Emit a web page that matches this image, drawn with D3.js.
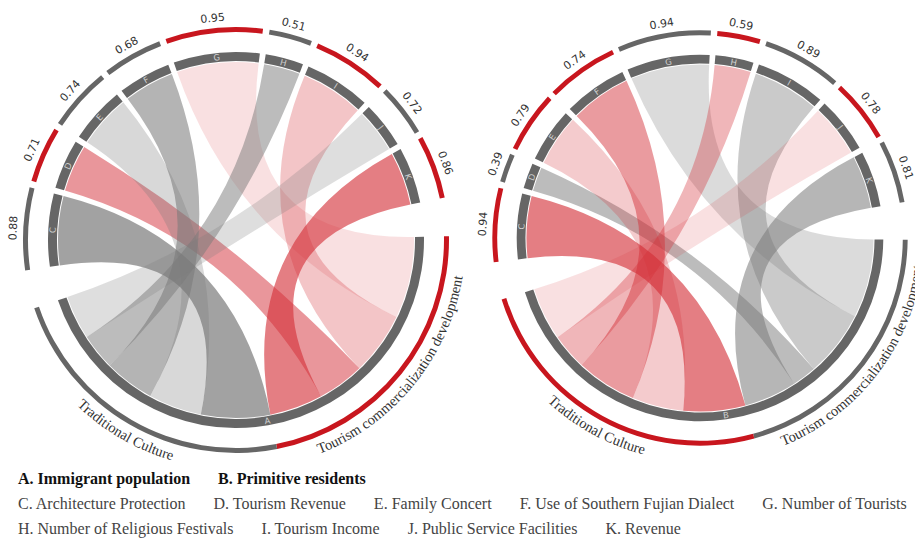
<!DOCTYPE html>
<html>
<head>
<meta charset="utf-8">
<script src="https://cdn.jsdelivr.net/npm/d3@7"></script>
<style>
body { margin: 0; background: #fff; }
</style>
</head>
<body>
<script>
// indicators around each circle (clockwise from the left)
var codes = ["C", "D", "E", "F", "G", "H", "I", "J", "K"];
var sideOf = ["trad", "tour", "trad", "trad", "tour", "trad", "tour", "trad", "tour"];
var valuesA = [0.88, 0.71, 0.74, 0.68, 0.95, 0.51, 0.94, 0.72, 0.86];
var valuesB = [0.94, 0.39, 0.79, 0.74, 0.94, 0.59, 0.89, 0.78, 0.81];
// link weights (ribbon widths)
var flowA = [22, 15, 17, 16, 26, 11.5, 20, 14, 17];
var flowB = [20.5, 8, 17, 20, 26, 12, 22, 17.5, 17.5];
// order of the links along the A / B arc, clockwise
var hubOrder = ["G", "I", "D", "K", "C", "E", "F", "H", "J"];
var sideNames = { trad: "Traditional Culture", tour: "Tourism commercialization development" };

var legendRow1 = ["A. Immigrant population", "B. Primitive residents"];
var legendRow2 = ["C. Architecture Protection", "D. Tourism Revenue", "E. Family Concert",
    "F. Use of Southern Fujian Dialect", "G. Number of Tourists"];
var legendRow3 = ["H. Number of Religious Festivals", "I. Tourism Income",
    "J. Public Service Facilities", "K. Revenue"];

var width = 915, height = 541;
var RED = "#c8161e", DARK = "#666666";

var svg = d3.select("body").append("svg")
    .attr("width", width)
    .attr("height", height);

var charts = [
    { hub: "A", values: valuesA, flow: flowA, red: "tour", cx: 236, cy: 240, start: 89, scale: 1,
      shade: [0.7, 0.5, 0.29, 0.56, 0.15, 0.5, 0.28, 0.25, 0.62] },
    { hub: "B", values: valuesB, flow: flowB, red: "trad", cx: 700, cy: 238, start: 90.5, scale: 0.975,
      shade: [0.62, 0.5, 0.25, 0.48, 0.27, 0.35, 0.4, 0.15, 0.55] }
];

var rad = (d) => d * Math.PI / 180;
var deg = (r) => ((r * 180 / Math.PI) % 360 + 360) % 360;

// rotation so text runs along the circle and stays readable
function labelTransform(a, r) {
    var d = deg(a);
    var rot = (d > 90 && d < 270) ? d - 180 : d;
    return `translate(${r * Math.sin(a)},${-r * Math.cos(a)}) rotate(${rot})`;
}

function drawChord(cfg, idx) {
    var s = cfg.scale;
    var g = svg.append("g").attr("transform", `translate(${cfg.cx},${cfg.cy})`);
    var total = d3.sum(cfg.flow);
    var pad = 1.8, gap = 10.5;
    var k = (360 - 8 * pad - 2 * gap) / (2 * total);
    var ang = d3.scaleLinear().domain([0, total]).range([0, rad(total * k)]);

    // positions of the links on the hub arc
    var hubPos = {};
    var cur = rad(cfg.start);
    var hubStart = cur;
    hubOrder.forEach((c) => {
        var i = codes.indexOf(c);
        hubPos[c] = { startAngle: cur, endAngle: cur + ang(cfg.flow[i]) };
        cur = hubPos[c].endAngle;
    });
    var hubEnd = cur;

    // indicator groups
    var groups = [];
    cur = hubEnd + rad(gap);
    codes.forEach((c, i) => {
        groups.push({ code: c, i: i, startAngle: cur, endAngle: cur + ang(cfg.flow[i]),
            value: cfg.values[i], side: sideOf[i] });
        cur += ang(cfg.flow[i]) + rad(pad);
    });
    var hubGroup = { code: cfg.hub, startAngle: hubStart, endAngle: hubEnd };

    var ribbon = d3.ribbon().radius(178 * s);
    g.selectAll("path.ribbon")
        .data(groups)
        .enter()
        .append("path")
        .attr("class", "ribbon")
        .attr("d", (d) => ribbon({ source: hubPos[d.code], target: d }))
        .attr("fill", (d) => d.side === cfg.red ? "#d42e37" : "#7a7a7a")
        .attr("fill-opacity", (d) => cfg.shade[d.i]);

    var inner = d3.arc().innerRadius(179 * s).outerRadius(188 * s);
    var outer = d3.arc().innerRadius(208 * s).outerRadius(213 * s);

    // dark group arcs
    g.selectAll("path.grp")
        .data(groups.concat([hubGroup]))
        .enter()
        .append("path")
        .attr("class", "grp")
        .attr("d", inner)
        .attr("fill", DARK);

    g.selectAll("text.code")
        .data(groups.concat([hubGroup]))
        .enter()
        .append("text")
        .attr("class", "code")
        .attr("transform", (d) => labelTransform((d.startAngle + d.endAngle) / 2, 183.5 * s))
        .attr("text-anchor", "middle")
        .attr("dominant-baseline", "central")
        .attr("font-family", "DejaVu Sans, sans-serif")
        .attr("font-size", "8.5px")
        .attr("fill", "#d0d0d0")
        .text((d) => d.code);

    // outer value arcs with their numbers
    g.selectAll("path.val")
        .data(groups)
        .enter()
        .append("path")
        .attr("class", "val")
        .attr("d", outer)
        .attr("fill", (d) => d.side === cfg.red ? RED : DARK);

    g.selectAll("text.val")
        .data(groups)
        .enter()
        .append("text")
        .attr("class", "val")
        .attr("transform", (d) => labelTransform((d.startAngle + d.endAngle) / 2, 223 * s))
        .attr("text-anchor", "middle")
        .attr("dominant-baseline", "central")
        .attr("font-family", "DejaVu Sans, sans-serif")
        .attr("font-size", "11px")
        .attr("fill", "#333")
        .text((d) => d.value.toFixed(2));

    // side arcs under the hub: Traditional Culture / Tourism
    ["tour", "trad"].forEach((side) => {
        var list = codes.filter((c, i) => sideOf[i] === side).map((c) => hubPos[c]);
        var sa = d3.min(list, (d) => d.startAngle), ea = d3.max(list, (d) => d.endAngle);
        g.append("path")
            .attr("d", outer({ startAngle: sa, endAngle: ea }))
            .attr("fill", side === cfg.red ? RED : DARK);

        var R = 229.5 * s;
        var id = `side-${idx}-${side}`;
        g.append("path")
            .attr("id", id)
            .attr("fill", "none")
            .attr("d", `M${R * Math.sin(ea)},${-R * Math.cos(ea)} A${R},${R} 0 ${ea - sa > Math.PI ? 1 : 0} 0 ${R * Math.sin(sa)},${-R * Math.cos(sa)}`);
        g.append("text")
            .attr("font-family", "Liberation Serif, serif")
            .attr("font-size", "14.5px")
            .attr("fill", "#333")
            .append("textPath")
            .attr("href", `#${id}`)
            .attr("startOffset", "50%")
            .attr("text-anchor", "middle")
            .text(sideNames[side]);
    });
}

charts.forEach(drawChord);

// legend underneath
function legendRow(items, y, bold) {
    var x = 18;
    items.forEach((t) => {
        var txt = svg.append("text")
            .attr("x", x)
            .attr("y", y)
            .attr("font-family", "Liberation Serif, serif")
            .attr("font-size", "16px")
            .attr("font-weight", bold ? "bold" : "normal")
            .attr("fill", bold ? "#111" : "#444")
            .text(t);
        x += txt.node().getComputedTextLength() + 28;
    });
}
legendRow(legendRow1, 484, true);
legendRow(legendRow2, 509, false);
legendRow(legendRow3, 534, false);
</script>
</body>
</html>
